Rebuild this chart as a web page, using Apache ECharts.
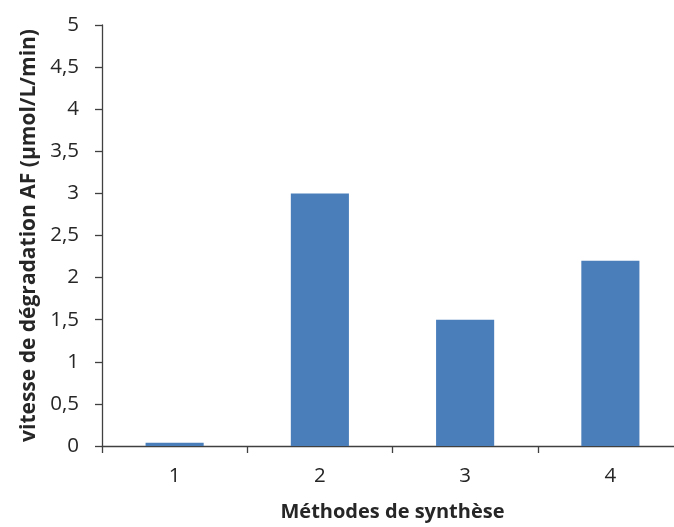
<!DOCTYPE html>
<html><head><meta charset="utf-8">
<script src="https://cdn.jsdelivr.net/npm/echarts@6/dist/echarts.min.js"></script>
<style>html,body{margin:0;padding:0;background:#fff;overflow:hidden}#c{width:690px;height:527px}</style>
</head><body><div id="c"></div>
<script>
const categories = ['1', '2', '3', '4'];
const values = [0.04, 3.0, 1.5, 2.2];
const yTitle = 'vitesse de dégradation AF (µmol/L/min)';
const xTitle = 'Méthodes de synthèse';

const chart = echarts.init(document.getElementById('c'));
const font = '"Open Sans", sans-serif';
chart.setOption({
  animation: false,
  grid: { left: 102, right: 7, top: 25, bottom: 80, containLabel: false },
  xAxis: {
    type: 'category', data: categories,
    axisLine: { lineStyle: { color: '#404040', width: 1.3 } },
    axisTick: { show: true, length: 7, lineStyle: { color: '#404040', width: 1.3 } },
    axisLabel: { color: '#262626', fontSize: 20.5, fontFamily: font, margin: 20 },
    name: xTitle, nameLocation: 'middle', nameGap: 56,
    nameTextStyle: { color: '#262626', fontSize: 20, fontWeight: 'bold', fontFamily: font }
  },
  yAxis: {
    type: 'value', min: 0, max: 5, interval: 0.5,
    axisLine: { show: true, lineStyle: { color: '#404040', width: 1.3 } },
    axisTick: { show: true, length: 7, lineStyle: { color: '#404040', width: 1.3 } },
    splitLine: { show: false },
    axisLabel: { color: '#262626', fontSize: 20.5, fontFamily: font, margin: 23,
      formatter: v => String(v).replace('.', ',') },
    name: yTitle, nameLocation: 'middle', nameGap: 62,
    nameTextStyle: { color: '#262626', fontSize: 21, fontWeight: 'bold', fontFamily: font }
  },
  series: [{
    type: 'bar', data: values, barWidth: '40%',
    itemStyle: { color: '#4a7ebb' }
  }]
});
</script></body></html>
